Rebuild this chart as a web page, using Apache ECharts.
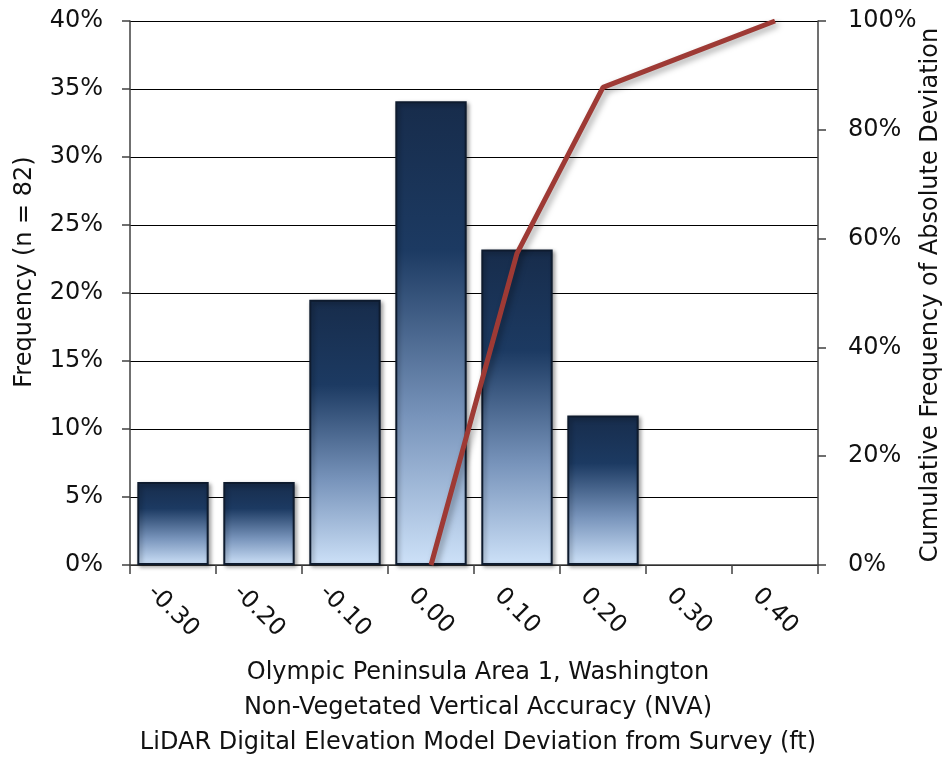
<!DOCTYPE html>
<html>
<head>
<meta charset="utf-8">
<script src="https://cdn.jsdelivr.net/npm/echarts@6/dist/echarts.min.js"></script>
<style>html,body{margin:0;padding:0;background:#fff;}#c{width:947px;height:757px;}</style>
</head>
<body>
<div id="c"></div>
<script>
const categories = ['-0.30', '-0.20', '-0.10', '0.00', '0.10', '0.20', '0.30', '0.40'];
const frequency = [6.1, 6.1, 19.5, 34.1, 23.2, 11.0, null, null];
const cumulative = [null, null, null, 0, 57.3, 87.8, 93.9, 100];
const leftTicks = { min: 0, max: 40, interval: 5 };
const rightTicks = { min: 0, max: 100, interval: 20 };
const leftAxisName = 'Frequency (n = 82)';
const rightAxisName = 'Cumulative Frequency of Absolute Deviation';
const titleLines = ['Olympic Peninsula Area 1, Washington', 'Non-Vegetated Vertical Accuracy (NVA)', 'LiDAR Digital Elevation Model Deviation from Survey (ft)'];

const FONT = 'DejaVu Sans';
const FS = 24;
const chart = echarts.init(document.getElementById('c'));
chart.setOption({
  animation: false,
  backgroundColor: '#ffffff',
  textStyle: { fontFamily: FONT },
  title: {
    text: titleLines.join('\n'),
    left: 473, top: 650, textAlign: 'center',
    textStyle: { fontFamily: FONT, fontSize: FS, fontWeight: 'normal', color: '#111', lineHeight: 35 }
  },
  graphic: [
    { type: 'text', x: 25, y: 272, rotation: Math.PI / 2,
      style: { text: leftAxisName, font: FS + 'px "' + FONT + '"', fill: '#111', textAlign: 'center', textVerticalAlign: 'middle' } },
    { type: 'text', x: 931, y: 295, rotation: Math.PI / 2,
      style: { text: rightAxisName, font: FS + 'px "' + FONT + '"', fill: '#111', textAlign: 'center', textVerticalAlign: 'middle' } }
  ],
  grid: { left: 130, right: 129, top: 21, bottom: 192 },
  xAxis: {
    type: 'category', data: categories, boundaryGap: true,
    axisLine: { lineStyle: { color: '#404040', width: 1.5 } },
    axisTick: { show: true, length: 9, lineStyle: { color: '#404040', width: 1.5 } },
    axisLabel: { rotate: -45, align: 'center', verticalAlign: 'middle', margin: 46, fontSize: FS, color: '#111', fontFamily: FONT }
  },
  yAxis: [
    {
      type: 'value', min: leftTicks.min, max: leftTicks.max, interval: leftTicks.interval,
      axisLine: { show: true, lineStyle: { color: '#404040', width: 1.5 } },
      axisTick: { show: true, length: 8, lineStyle: { color: '#404040', width: 1.5 } },
      axisLabel: { formatter: '{value}%', fontSize: FS, color: '#111', margin: 27, fontFamily: FONT },
      splitLine: { show: true, lineStyle: { color: '#000', width: 1 } }
    },
    {
      type: 'value', min: rightTicks.min, max: rightTicks.max, interval: rightTicks.interval,
      axisLine: { show: true, lineStyle: { color: '#404040', width: 1.5 } },
      axisTick: { show: true, length: 8, lineStyle: { color: '#404040', width: 1.5 } },
      axisLabel: { formatter: '{value}%', fontSize: FS, color: '#111', margin: 30, fontFamily: FONT },
      splitLine: { show: false }
    }
  ],
  series: [
    {
      type: 'bar', data: frequency, yAxisIndex: 0, barCategoryGap: '17%',
      itemStyle: {
        color: new echarts.graphic.LinearGradient(0, 0, 0, 1, [
          { offset: 0, color: '#172c4b' },
          { offset: 0.32, color: '#1c3a62' },
          { offset: 0.68, color: '#7894bb' },
          { offset: 1, color: '#cde1f8' }
        ]),
        borderColor: '#0e1b2e', borderWidth: 2,
        shadowColor: 'rgba(0,0,0,0.35)', shadowBlur: 4, shadowOffsetX: 2, shadowOffsetY: 2
      }
    },
    {
      type: 'line', data: cumulative, yAxisIndex: 1, symbol: 'none', connectNulls: false,
      lineStyle: { color: '#9e3a35', width: 5, shadowColor: 'rgba(0,0,0,0.35)', shadowBlur: 6, shadowOffsetX: 3, shadowOffsetY: 3 },
      z: 5
    }
  ]
});
</script>
</body>
</html>
